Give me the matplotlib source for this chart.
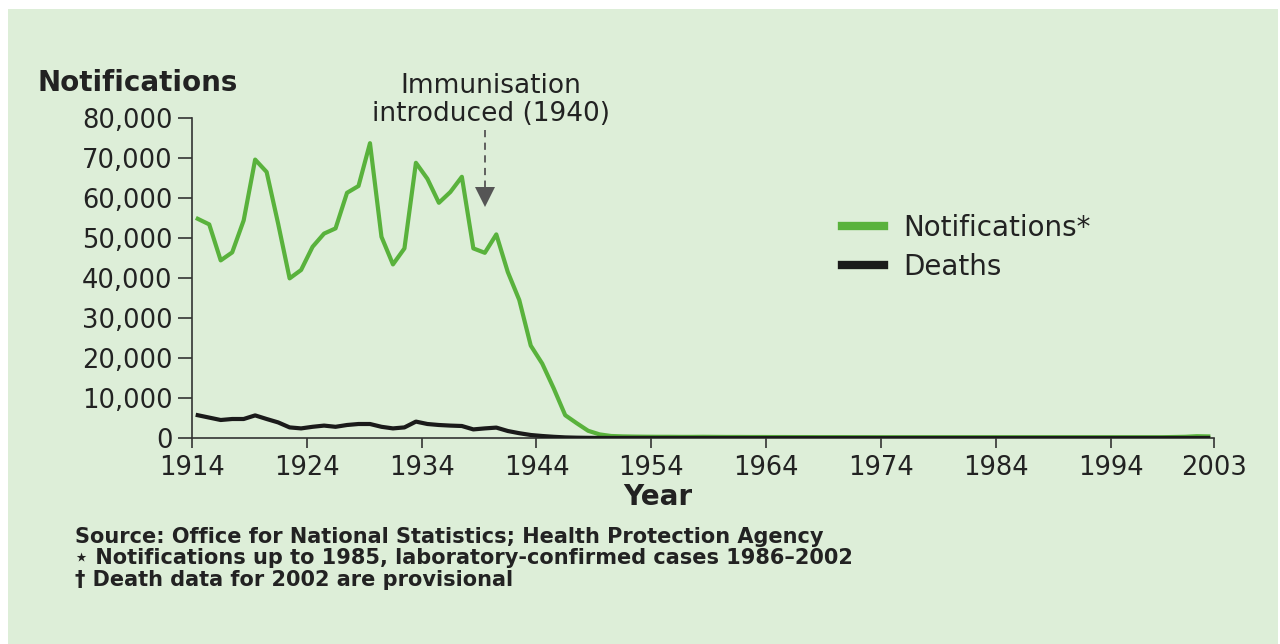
"""
Whooping cough notifications and deaths, England & Wales, 1914-2002.
Output: out.png
"""

import matplotlib.pyplot as plt
from matplotlib.patches import Rectangle
from matplotlib.ticker import FuncFormatter

# ---------------------------------------------------------------------------
# Data
# ---------------------------------------------------------------------------
YEARS = list(range(1914, 2003))

NOTIFICATIONS = [
    54800, 53400, 44400, 46400, 54400, 69600, 66500, 53600, 39900, 42000,   # 1914-23
    47800, 51100, 52400, 61300, 63000, 73700, 50300, 43400, 47400, 68800,   # 1924-33
    64800, 58800, 61500, 65300, 47400, 46300, 50900, 41500, 34500, 23100,   # 1934-43
    18600, 12400, 5700, 3700, 1800, 900, 500, 400, 350, 320,                # 1944-53
    300, 300, 280, 280, 300, 280, 260, 260, 250, 250,                       # 1954-63
    240, 240, 230, 230, 220, 220, 220, 210, 210, 200,                       # 1964-73
    200, 200, 200, 200, 200, 200, 200, 200, 200, 200,                       # 1974-83
    200, 200, 200, 200, 200, 200, 200, 200, 200, 200,                       # 1984-93
    200, 200, 200, 200, 200, 250, 300, 450, 400,                            # 1994-2002
]

DEATHS = [
    5700, 5100, 4500, 4750, 4750, 5650, 4750, 3900, 2650, 2400,             # 1914-23
    2800, 3100, 2800, 3250, 3500, 3500, 2800, 2400, 2650, 4100,             # 1924-33
    3500, 3250, 3100, 3000, 2150, 2400, 2600, 1750, 1200, 750,              # 1934-43
    500, 300, 150, 80, 40, 20, 10, 10, 10, 10,                              # 1944-53
    5, 5, 5, 5, 5, 5, 5, 5, 5, 5,                                           # 1954-63
    5, 5, 5, 5, 5, 5, 5, 5, 5, 5,                                           # 1964-73
    5, 5, 5, 5, 5, 5, 5, 5, 5, 5,                                           # 1974-83
    5, 5, 5, 5, 5, 5, 5, 5, 5, 5,                                           # 1984-93
    5, 5, 5, 5, 5, 5, 5, 5, 5,                                              # 1994-2002
]

X_TICKS = [1914, 1924, 1934, 1944, 1954, 1964, 1974, 1984, 1994, 2003]
Y_TICKS = [0, 10000, 20000, 30000, 40000, 50000, 60000, 70000, 80000]

IMMUNISATION_YEAR = 1940

FOOTNOTES = [
    "Source: Office for National Statistics; Health Protection Agency",
    "\u22c6 Notifications up to 1985, laboratory-confirmed cases 1986\u20132002",
    "\u2020 Death data for 2002 are provisional",
]

# ---------------------------------------------------------------------------
# Style
# ---------------------------------------------------------------------------
BG = "#ddeed8"
GREEN = "#59b23c"
BLACK = "#1a1a1a"
TEXT = "#222222"
ARROW = "#555555"

plt.rcParams["font.family"] = ["DejaVu Sans"]

fig = plt.figure(figsize=(12.8, 6.44), dpi=100, facecolor="white")
fig.patches.append(Rectangle((8 / 1280, 0), 1270 / 1280, 635 / 644,
                             transform=fig.transFigure, facecolor=BG,
                             edgecolor="none", zorder=-10))

ax = fig.add_axes([192 / 1280, (644 - 438) / 644, (1214 - 192) / 1280, 320 / 644])
ax.set_facecolor("none")

# years plotted at mid-year
xs = [y + 0.5 for y in YEARS]
ax.plot(xs, NOTIFICATIONS, color=GREEN, lw=3.0, zorder=3)
ax.plot(xs, DEATHS, color=BLACK, lw=3.0, zorder=4)

ax.set_xlim(1914, 2003)
ax.set_ylim(0, 80000)
ax.set_xticks(X_TICKS)
ax.set_yticks(Y_TICKS)
ax.yaxis.set_major_formatter(FuncFormatter(lambda v, _: f"{int(v):,}"))

for side in ("top", "right"):
    ax.spines[side].set_visible(False)
for side in ("left", "bottom"):
    ax.spines[side].set_color("#333333")
    ax.spines[side].set_linewidth(1.2)

ax.tick_params(axis="y", length=10, width=1.2, color="#333333",
               labelsize=18.5, labelcolor=TEXT, pad=4)
ax.tick_params(axis="x", length=7, width=1.2, color="#333333",
               labelsize=18.5, labelcolor=TEXT, pad=5)

# axis titles
fig.text(38 / 1280, 1 - 83 / 644, "Notifications", fontsize=20, fontweight="bold",
         color=TEXT, ha="left", va="center")
fig.text(658 / 1280, 1 - 497 / 644, "Year", fontsize=20, fontweight="bold",
         color=TEXT, ha="center", va="center")

# Immunisation annotation
ax.text(IMMUNISATION_YEAR, 84400, "Immunisation\nintroduced (1940)", fontsize=19,
        color=TEXT, ha="center", va="center", linespacing=1.1, clip_on=False)
ax.plot([IMMUNISATION_YEAR - 0.5] * 2, [76900, 61800], color=ARROW, lw=1.3,
        ls=(0, (4, 3)), zorder=2)
ax.plot([IMMUNISATION_YEAR - 0.5], [60200], marker="v", markersize=14,
        color=ARROW, markeredgewidth=0, zorder=2)

# Legend
ax.legend(["Notifications*", "Deaths"], loc="center left",
          bbox_to_anchor=(0.636, 0.595), frameon=False, fontsize=20,
          borderpad=0, borderaxespad=0,
          handlelength=1.5, handletextpad=0.72, labelspacing=0.4,
          labelcolor=TEXT)
for h in ax.get_legend().legend_handles:
    h.set_linewidth(6)

# Footnotes
for i, line in enumerate(FOOTNOTES):
    fig.text(75 / 1280, 1 - (537 + i * 21.5) / 644, line, fontsize=15,
             fontweight="bold", color=TEXT, ha="left", va="center")

fig.savefig("out.png", dpi=100, facecolor=fig.get_facecolor())
